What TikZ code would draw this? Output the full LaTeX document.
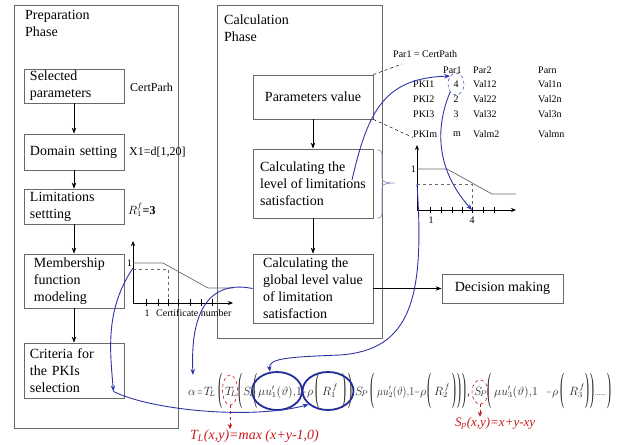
\documentclass[tikz,border=0pt]{standalone}
\usepackage{fontspec}
\setmainfont{Liberation Serif}
\usetikzlibrary{arrows.meta,shapes.geometric,calc}
\definecolor{curveblue}{RGB}{45,52,165}
\definecolor{ringblue}{RGB}{35,45,150}
\definecolor{redtxt}{RGB}{200,25,25}
\definecolor{framegray}{RGB}{105,105,105}
\definecolor{bracegray}{RGB}{135,145,185}
\newcommand\tpl{\raisebox{-5.5pt}{\scalebox{1}[3.3]{(}}}
\newcommand\tpr{\raisebox{-5.5pt}{\scalebox{1}[3.3]{)}}}
\begin{document}
\begin{tikzpicture}[x=1pt,y=-1pt,
  frame/.style={draw=framegray, line width=0.8pt},
  title/.style={font=\fontsize{14}{17}\selectfont, align=left, inner sep=0pt, anchor=north west},
  stepbox/.style={draw=framegray, line width=0.8pt, font=\fontsize{14}{17}\selectfont, align=left, inner ysep=2pt},
  flow/.style={-{Stealth[length=6pt,width=4.5pt]}, line width=0.7pt},
  tbl/.style={font=\fontsize{10}{12}\selectfont, inner sep=0pt, anchor=west},
  note/.style={font=\fontsize{12}{14}\selectfont, inner sep=0pt, anchor=west},
  link/.style={draw=curveblue, line width=0.9pt, -{Stealth[length=6pt,width=4.5pt]}},
  ring/.style={draw=ringblue, line width=1.8pt, ellipse, inner sep=0pt},
  redring/.style={draw=redtxt, dashed, line width=0.6pt, ellipse, inner sep=0pt},
  redlink/.style={draw=redtxt, dashed, line width=0.8pt, -{Stealth[length=5pt,width=4.5pt]}},
  axis/.style={-{Stealth[length=5pt,width=4pt]}, line width=0.6pt},
  mf/.style={draw=framegray, line width=0.7pt},
  eq/.style={inner sep=0pt, anchor=base west, font=\fontsize{12}{14}\selectfont, text=black!85},
  redf/.style={text=redtxt, inner sep=0pt, anchor=base west}
]
\useasboundingbox (0,0) rectangle (622,445);

% phase frames
\draw[frame] (14,5) rectangle (178,428);
\draw[frame] (217,5) rectangle (382,338);
\node[title] (preptitle) at (25,10) {Preparation\\Phase};
\node[title] (calctitle) at (224,15) {Calculation\\Phase};

% preparation boxes
\node[stepbox, text width=88pt, inner xsep=6pt, minimum height=34pt] (sel) at (74,86) {Selected\\parameters};
\node[stepbox, text width=88pt, inner xsep=6pt, minimum height=36pt] (dom) at (74,152) {Domain setting};
\node[stepbox, text width=88pt, inner xsep=6pt, minimum height=35pt] (lim) at (74,206.5) {Limitations\\settting};
\node[stepbox, text width=80pt, inner xsep=10pt, minimum height=54pt] (memb) at (74,281) {Membership\\function\\modeling};
\node[stepbox, text width=88pt, inner xsep=6pt, minimum height=55pt] (crit) at (74,370.5) {Criteria for\\the PKIs\\selection};
\draw[flow] (sel) -- (dom);
\draw[flow] (dom) -- (lim);
\draw[flow] (lim) -- (memb);
\draw[flow] (memb) -- (crit);

% side notes
\node[note] (certparh) at (130,87) {CertParh};
\node[note] (xone) at (129,152) {X1=d[1,20]};
\node[note] (rfthree) at (128,210) {$R_1^f$\textbf{=3}};

% calculation boxes
\node[stepbox, minimum width=120pt, minimum height=44pt] (params) at (313,97) {Parameters value};
\node[stepbox, minimum width=120pt, minimum height=69pt] (level) at (313,183.5) {Calculating the\\level of limitations\\satisfaction};
\node[stepbox, minimum width=120pt, minimum height=69pt] (global) at (313,288.5) {Calculating the\\global level value\\of limitation\\satisfaction};
\node[stepbox, minimum width=121pt, minimum height=29pt, align=center] (decision) at (502.5,288.5) {Decision making};
\draw[flow] (params) -- (level);
\draw[flow] (level) -- (global);
\draw[flow] (global.east) -- (decision.west);

% brace
\draw[draw=bracegray, line width=0.7pt] (377,150) .. controls (381,150) and (382,151) .. (382,156) -- (382,178) .. controls (382,182) and (386,183) .. (395,183) .. controls (386,183) and (382,184) .. (382,188) -- (382,212) .. controls (382,217) and (381,218) .. (377,218);

% table
\node[tbl] (par1lbl) at (393,54) {Par1 = CertPath};
\node[tbl] (hone) at (443,70) {Par1};
\node[tbl] (htwo) at (473,70) {Par2};
\node[tbl] (hn) at (538,70) {Parn};
\node[tbl] (pkione) at (413,84) {PKI1};
\node[tbl] (pkitwo) at (413,99) {PKI2};
\node[tbl] (pkithree) at (413,114) {PKI3};
\node[tbl] (pkim) at (413,134) {PKIm};
\node[tbl, anchor=center] (vone) at (456,84) {4};
\node[tbl, anchor=center] (vtwo) at (456,99) {2};
\node[tbl, anchor=center] (vthree) at (456,114) {3};
\node[tbl, anchor=center] (vm) at (457,134) {m};
\node[tbl] (vaa) at (473,84) {Val12};
\node[tbl] (vab) at (473,99) {Val22};
\node[tbl] (vac) at (473,114) {Val32};
\node[tbl] (vad) at (473,134) {Valm2};
\node[tbl] (vna) at (538,84) {Val1n};
\node[tbl] (vnb) at (538,99) {Val2n};
\node[tbl] (vnc) at (538,114) {Val3n};
\node[tbl] (vnd) at (538,134) {Valmn};
\node[draw=curveblue, dashed, ellipse, minimum width=16pt, minimum height=22pt, line width=0.5pt] (fourring) at (vone.center) {};
\coordinate (dashend) at (402,64);
\draw[dashed, line width=0.5pt] (params.north east) -- (dashend);
\draw[dashed, line width=0.5pt] (params.south east) -- (pkim.south west);

% left membership graph
\draw[axis] (133,303) -- (133,241);
\draw[axis] (133,303) -- (233,303);
\draw[mf] (133,263) -- (163,263) -- (208,288) -- (233,288);
\draw[mf, dashed] (133,269) -- (168,269) -- (168,303);
\foreach \t in {146,158,168,178,190,201,212} \draw[line width=0.6pt] (\t,299) -- (\t,306);
\node[tbl, anchor=east] (lgone) at (132,263) {1};
\node[tbl, anchor=center] (lgx) at (147,313) {1};
\node[tbl] (lgcert) at (156,313) {Certificate number};
\coordinate (lgpt) at (133,268);

% right membership graph
\draw[axis] (417,210) -- (417,145);
\draw[axis] (417,210) -- (516,210);
\draw[mf] (417,169) -- (447,169) -- (492,194) -- (516,194);
\draw[mf, dashed] (417,184) -- (472,184) -- (472,210);
\foreach \t in {430,441,452,462,472,483,494} \draw[line width=0.6pt] (\t,207) -- (\t,213);
\node[tbl, anchor=east] (rgone) at (416,169) {1};
\node[tbl, anchor=center] (rgx) at (431,220) {1};
\node[tbl, anchor=center] (rgfour) at (472,220) {4};
\coordinate (rgpt) at (417,184);
\coordinate (rgfourpt) at (472,210);

% equation, piece by piece
\node[eq] (ezero) at (188,395) {$\alpha\mskip2mu\scalebox{0.6}[1]{$=$}\mskip2mu T_{\!L}$};
\node[eq] (pa) at (218,395) {\tpl};
\node[eq] (tltwo) at (225,395) {$T_{\!L}$};
\node[eq] (pb) at (238,395) {\tpl};
\node[eq] (spone) at (243,395) {$S_{\!P}$};
\node[eq] (pc) at (253,395) {\tpl};
\node[eq] (muone) at (258,395) {$\mu u_1'(\vartheta),\!1$};
\node[eq, anchor=base] (mione) at (304,395) {\scalebox{0.6}[1]{$-$}};
\node[eq] (rhoone) at (307,395) {$\rho$};
\node[eq] (pd) at (315,395) {\tpl};
\node[eq] (rone) at (322,395) {$R^{\,f}_1$};
\node[eq] (pe) at (342,395) {\tpr};
\node[eq] (pf) at (348,395) {\tpr};
\node[eq] (sptwo) at (355,395) {$S_{\!P}$};
\node[eq] (pg) at (370,395) {\tpl};
\node[eq] (mutwo) at (377,395) {\scalebox{0.85}[1]{$\mu u_2'(\vartheta),\!1$}};
\node[eq, anchor=base] (mitwo) at (417,395) {\scalebox{0.6}[1]{$-$}};
\node[eq] (rhotwo) at (420,395) {$\rho$};
\node[eq] (ph) at (427,395) {\tpl};
\node[eq] (rtwo) at (434,395) {$R^{\,f}_2$};
\node[eq] (pi) at (452,395) {\tpr};
\node[eq] (pj) at (457,395) {\tpr};
\node[eq] (pk) at (462,395) {\tpr};
\node[eq] (cma) at (467,395) {,};
\node[eq] (spthree) at (474,395) {$S_{\!P}$};
\node[eq] (pl) at (487,395) {\tpl};
\node[eq] (muthree) at (494,395) {$\mu u_3'(\vartheta),\!1$};
\node[eq, anchor=base] (mithree) at (549,395) {\scalebox{0.6}[1]{$-$}};
\node[eq] (rhothree) at (552,395) {$\rho$};
\node[eq] (pm) at (560,395) {\tpl};
\node[eq] (rthree) at (569,395) {$R^{\,f}_3$};
\node[eq] (pn) at (585,395) {\tpr};
\node[eq] (po) at (590,395) {\tpr};
\node[eq, font=\fontsize{7}{8}\selectfont] (dots) at (595,395) {......};
\node[eq] (pp) at (607,395) {\tpr};

\node[ring, minimum width=50pt, minimum height=38pt] (ringone) at (277,391) {};
\node[ring, minimum width=51pt, minimum height=38pt] (ringtwo) at (328,391) {};
\node[redring, minimum width=15pt, minimum height=30pt] (tlring) at (230,390) {};
\node[redring, minimum width=16pt, minimum height=24pt] (spring) at (480,392) {};

\node[redf, font=\fontsize{14}{16}\selectfont\itshape] (tlf) at (190,439) {T\textsubscript{L}(x,y)=max (x+y-1,0)};
\node[redf, font=\fontsize{13}{15}\selectfont\itshape] (spf) at (455,426) {S\textsubscript{p}(x,y)=x+y-xy};
\draw[redlink] (tlring.south) -- (tlring.south |- tlf.north);
\draw[redlink] (spring.south) -- (spring.south |- spf.north);

% blue connectors
\coordinate (levelpt) at (352,180);
\coordinate (alphatop) at (193,375);
\coordinate (critpt) at ($(crit.south east)+(-11,-7)$);
\draw[link] (levelpt) .. controls (368,110) and (385,78) .. (fourring.north west);
\draw[link] (fourring.south west) .. controls (430,140) and (445,180) .. (rgfourpt);
\draw[link] (rgpt) .. controls (425,300) and (410,350) .. (340,355) .. controls (290,357) and (268,358) .. (ringone.110);
\draw[link] (global.west) .. controls (210,280) and (190,310) .. (alphatop);
\draw[link] (lgpt) .. controls (105,310) and (110,350) .. (critpt);
\draw[link] (critpt) .. controls (150,410) and (250,420) .. (ringtwo.215);
\end{tikzpicture}
\end{document}
